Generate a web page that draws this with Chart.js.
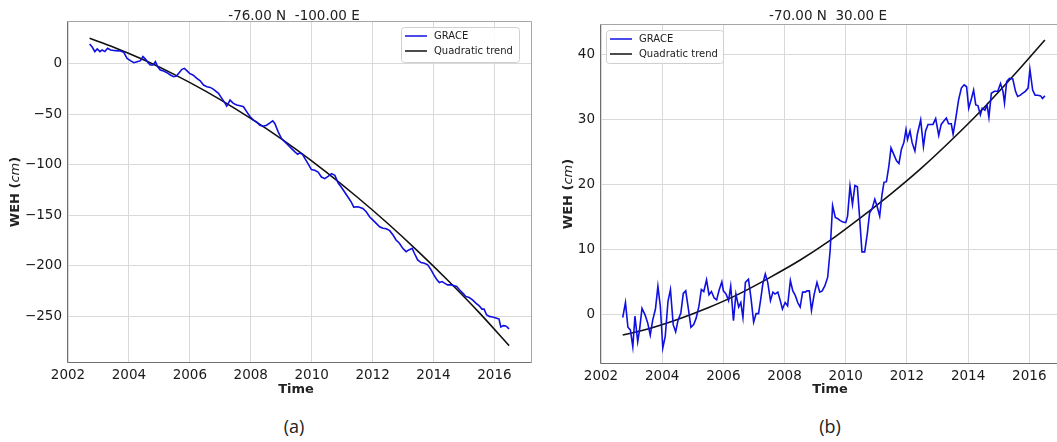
<!DOCTYPE html>
<html>
<head>
<meta charset="utf-8">
<script src="https://cdn.jsdelivr.net/npm/chart.js@4.4.1/dist/chart.umd.min.js"></script>
<style>
    html, body { margin: 0; padding: 0; background: #fff; }
    body { width: 1057px; height: 442px; position: relative; overflow: hidden; font-family: "DejaVu Sans", sans-serif; color: #222; }
    canvas { position: absolute; top: 0; }
    #chartA { left: 0; }
    #chartB { left: 540px; }
    .title { position: absolute; top: 7px; width: 300px; text-align: center; font-size: 13.5px; white-space: pre; }
    .xtitle { position: absolute; top: 381px; width: 100px; text-align: center; font-size: 13px; font-weight: bold; }
    .ytitle { position: absolute; width: 120px; height: 16px; line-height: 16px; text-align: center; font-size: 13px; transform: rotate(-90deg); white-space: pre; }
    .ytitle b { font-weight: bold; }
    .ytitle i { font-style: italic; }
    .caption { position: absolute; top: 414px; width: 60px; text-align: center; font-family: "Open Sans", sans-serif; font-size: 18px; }
</style>
</head>
<body>
<canvas id="chartA" width="545" height="400"></canvas>
<canvas id="chartB" width="540" height="400"></canvas>

<div class="title" style="left:144px">-76.00 N  -100.00 E</div>
<div class="title" style="left:678px">-70.00 N  30.00 E</div>
<div class="xtitle" style="left:246px">Time</div>
<div class="xtitle" style="left:780px">Time</div>
<div class="ytitle" style="left:-45px; top:184px"><b>WEH (</b><i>cm</i><b>)</b></div>
<div class="ytitle" style="left:508px; top:186px"><b>WEH (</b><i>cm</i><b>)</b></div>
<div class="caption" style="left:264px">(a)</div>
<div class="caption" style="left:800px">(b)</div>

<script>
// 축 눈금
const xTicks = [2002, 2004, 2006, 2008, 2010, 2012, 2014, 2016];
const yTicksA = [-250, -200, -150, -100, -50, 0];
const yTicksB = [0, 10, 20, 30, 40];

// (a) -76 N -100 E : GRACE
const graceTimeA = [
    2002.71, 2002.80, 2002.88, 2002.96, 2003.05, 2003.12, 2003.21, 2003.30, 2003.40, 2003.56,
    2003.72, 2003.83, 2003.94, 2004.05, 2004.16, 2004.27, 2004.38, 2004.46, 2004.55, 2004.63,
    2004.70, 2004.79, 2004.87, 2004.94, 2005.03, 2005.14, 2005.25, 2005.36, 2005.47, 2005.56,
    2005.63, 2005.74, 2005.82, 2005.90, 2005.99, 2006.10, 2006.23, 2006.34, 2006.45, 2006.56,
    2006.67, 2006.78, 2006.94, 2007.05, 2007.16, 2007.21, 2007.32, 2007.43, 2007.54, 2007.65,
    2007.76, 2007.87, 2007.98, 2008.09, 2008.19, 2008.30, 2008.41, 2008.52, 2008.63, 2008.72,
    2008.79, 2008.90, 2009.01, 2009.12, 2009.23, 2009.34, 2009.45, 2009.54, 2009.61, 2009.70,
    2009.78, 2009.88, 2009.99, 2010.10, 2010.21, 2010.32, 2010.43, 2010.54, 2010.65, 2010.76,
    2010.87, 2010.97, 2011.08, 2011.19, 2011.30, 2011.38, 2011.52, 2011.68, 2011.79, 2011.90,
    2012.01, 2012.12, 2012.23, 2012.34, 2012.45, 2012.56, 2012.67, 2012.77, 2012.88, 2012.99,
    2013.10, 2013.19, 2013.30, 2013.37, 2013.48, 2013.59, 2013.70, 2013.81, 2013.92, 2014.01,
    2014.10, 2014.19, 2014.28, 2014.36, 2014.46, 2014.57, 2014.68, 2014.76, 2014.85, 2014.96,
    2015.06, 2015.17, 2015.28, 2015.39, 2015.50, 2015.59, 2015.66, 2015.74, 2015.83, 2015.94,
    2016.05, 2016.15, 2016.21, 2016.29, 2016.37, 2016.43, 2016.48
];
const graceValueA = [
    19.9, 16.6, 12.3, 14.9, 12.3, 13.9, 12.3, 15.6, 13.9, 13.2,
    12.9, 11.6, 5.6, 3.3, 1.3, 2.3, 3.3, 7.3, 4.6, 1.3,
    -1, -1, 2.3, -2.6, -6, -7, -8.6, -10.9, -12.6, -11.9,
    -9.3, -5.3, -4.3, -6.6, -9.3, -10.9, -14.2, -16.6, -20.9, -22.5,
    -23.2, -25.2, -29.1, -34.1, -39, -41.7, -35.8, -39, -40.7, -41.4,
    -42.4, -47.4, -52.3, -55.6, -57.3, -60.6, -61.6, -60.6, -58.3, -56.3,
    -58.9, -67.2, -73.8, -77.2, -80.5, -83.8, -87.1, -89.4, -88.1, -89.4,
    -93.7, -98.7, -104.6, -105.3, -107, -112, -113.6, -111.3, -108.6, -110.3,
    -117.9, -121.9, -126.8, -131.8, -136.8, -141.7, -141.4, -143.1, -146.4, -151.3,
    -154.6, -157.9, -161.2, -162.8, -163.2, -165.1, -169.4, -174.3, -177.6, -182.6,
    -185.9, -184.2, -182.6, -187.5, -194.1, -196.7, -197.4, -199, -203.9, -208.9,
    -213.2, -216.5, -215.5, -217.1, -218.8, -218.8, -219.7, -220.4, -223.7, -227,
    -230.3, -231.3, -233.6, -236.8, -239.5, -242.8, -242.8, -248.4, -250, -250.7,
    -251.6, -252.6, -260.5, -259.2, -259.5, -260.9, -262.5
];
// (a) Quadratic trend
const trendTimeA = [2002.71, 2003.5, 2004.5, 2005.5, 2006.5, 2007.5, 2008.5, 2009.5, 2010.5, 2011.5, 2012.5, 2013.5, 2014.5, 2015.5, 2016.48];
const trendValueA = [25.5, 16.6, 3.9, -10.5, -26.6, -44.4, -63.8, -84.8, -107.6, -132, -158, -185.8, -215.2, -246.3, -279];

// (b) -70 N 30 E : GRACE
const graceTimeB = [
    2002.71, 2002.80, 2002.88, 2002.96, 2003.04, 2003.11, 2003.20, 2003.26, 2003.34, 2003.44,
    2003.53, 2003.61, 2003.69, 2003.78, 2003.86, 2003.94, 2004.02, 2004.10, 2004.19, 2004.27,
    2004.36, 2004.44, 2004.52, 2004.61, 2004.69, 2004.77, 2004.86, 2004.94, 2005.03, 2005.11,
    2005.20, 2005.28, 2005.36, 2005.45, 2005.53, 2005.61, 2005.70, 2005.78, 2005.86, 2005.95,
    2006.00, 2006.09, 2006.17, 2006.24, 2006.33, 2006.41, 2006.50, 2006.57, 2006.64, 2006.72,
    2006.82, 2006.90, 2006.99, 2007.07, 2007.15, 2007.23, 2007.29, 2007.37, 2007.45, 2007.54,
    2007.62, 2007.69, 2007.78, 2007.86, 2007.93, 2008.02, 2008.10, 2008.19, 2008.27, 2008.35,
    2008.43, 2008.51, 2008.59, 2008.68, 2008.73, 2008.81, 2008.88, 2008.97, 2009.06, 2009.15,
    2009.23, 2009.32, 2009.41, 2009.49, 2009.57, 2009.66, 2009.74, 2009.82, 2009.91,
    2010.00, 2010.06, 2010.14, 2010.22, 2010.30, 2010.38, 2010.45, 2010.53, 2010.62, 2010.71,
    2010.78, 2010.86, 2010.95, 2011.02, 2011.11, 2011.18, 2011.25, 2011.33, 2011.41, 2011.48,
    2011.57, 2011.66, 2011.74, 2011.82, 2011.90, 2011.97, 2012.02, 2012.10, 2012.17, 2012.26,
    2012.34, 2012.45, 2012.54, 2012.61, 2012.69, 2012.77, 2012.85, 2012.94, 2013.04, 2013.12,
    2013.20, 2013.29,
    2013.36, 2013.45, 2013.51, 2013.60, 2013.69, 2013.78, 2013.87, 2013.95, 2014.02, 2014.11,
    2014.18, 2014.25, 2014.32, 2014.40, 2014.46, 2014.55, 2014.62, 2014.68, 2014.76, 2014.86,
    2014.97, 2015.06, 2015.14, 2015.19, 2015.26, 2015.35, 2015.46, 2015.55, 2015.62, 2015.71,
    2015.78, 2015.87, 2015.96, 2016.02, 2016.11, 2016.19, 2016.28, 2016.37, 2016.43, 2016.51
];
const graceValueB = [
    -0.4, 1.9, -1.9, -2.3, -4.9, -0.2, -4.1, -2.3, 1.0, 0,
    -1.3, -3.1, -0.8, 0.9, 4.4, 1.3, -5.1, -3.3, 2.1, 3.9,
    -1.5, -2.6, -0.8, 0.3, 3.3, 3.7, 0.8, -1.9, -1.5, -0.5,
    1.3, 3.9, 3.6, 5.4, 3.1, 3.6, 2.6, 2.3, 3.8, 5.1,
    3.7, 3.2, 2.2, 4.4, -0.9, 3.2, 1.2, 1.9, -0.4, 5.0,
    5.5, 2.7, -1.1, 0.2, 0.2, 2.7, 4.8, 6.3, 5.0, 2.2,
    3.5, 3.2, 3.5, 2.2, 0.9, 1.9, 1.4, 5.3, 3.7, 3.0,
    1.9, 1.2, 3.5, 3.5, 3.7, 3.7, 0.7, 3.2, 5.0, 3.5,
    3.7, 4.5, 5.8, 9.9, 16.8, 15.0, 14.8, 14.5, 14.3,
    14.2, 15.2, 19.8, 17.0, 19.9, 19.7, 15.2, 9.7, 9.7, 12.7,
    15.7, 16.3, 17.8, 16.8, 15.2, 18.3, 20.4, 20.5, 22.9, 25.7,
    24.7, 23.7, 23.3, 25.5, 26.5, 28.5, 27.0, 28.3, 26.5, 25.2,
    27.8, 30.0, 25.9, 28.3, 29.3, 29.3, 29.3, 30.2, 27.6, 29.3,
    29.8, 30.3,
    29.4, 29.4, 27.8, 30.3, 33.1, 34.9, 35.4, 35.1, 31.8, 33.3,
    34.6, 32.3, 32.2, 30.8, 31.8, 31.5, 32.3, 30.4, 34.1, 34.4,
    34.4, 35.6, 34.4, 32.6, 35.9, 36.4, 36.3, 34.4, 33.6, 33.8,
    34.1, 34.4, 34.9, 37.8, 34.6, 33.8, 33.8, 33.7, 33.3, 33.7
];
// (b) Quadratic trend
const trendTimeB = [2002.71, 2003.5, 2004.5, 2005.5, 2006.5, 2007.5, 2008.5, 2009.5, 2010.5, 2011.5, 2012.5, 2013.5, 2014.5, 2015.5, 2016.51];
const trendValueB = [-3.1, -2.2, -0.7, 1.1, 3.2, 5.7, 8.4, 11.5, 15.0, 18.7, 22.7, 27.1, 31.8, 36.9, 42.3];

const TICK_FONT = { family: '"DejaVu Sans", sans-serif', size: 13.5 };
const minus = v => String(v).replace('-', '\u2212');
const toXY = (ts, vs) => ts.map((t, i) => ({ x: t, y: vs[i] }));

// 축 테두리 (matplotlib spines)
const framePlugin = {
    id: 'frame',
    afterDatasetsDraw(chart) {
        const { ctx, chartArea: a } = chart;
        const l = Math.round(a.left) - 0.5, t = Math.round(a.top) - 0.5;
        const r = Math.round(a.right) + 0.5, b = Math.round(a.bottom) + 0.5;
        ctx.save();
        ctx.lineWidth = 1;
        // 위/오른쪽은 옅게
        ctx.strokeStyle = '#a6a6a6';
        ctx.beginPath();
        ctx.moveTo(l, t); ctx.lineTo(r, t); ctx.lineTo(r, b);
        ctx.stroke();
        // 왼쪽/아래는 진하게
        ctx.strokeStyle = '#707070';
        ctx.beginPath();
        ctx.moveTo(l, t); ctx.lineTo(l, b); ctx.lineTo(r, b);
        ctx.stroke();
        ctx.restore();
    }
};

// 범례 (축 내부)
const boxLegendPlugin = {
    id: 'boxLegend',
    afterDraw(chart, args, opts) {
        const { ctx } = chart;
        const { x, y, w, h } = opts;
        ctx.save();
        ctx.fillStyle = 'rgba(255,255,255,0.85)';
        ctx.strokeStyle = '#d0d0d0';
        ctx.lineWidth = 1;
        ctx.beginPath();
        ctx.roundRect(x + 0.5, y + 0.5, w, h, 3);
        ctx.fill();
        ctx.stroke();
        ctx.font = '10px "DejaVu Sans", sans-serif';
        ctx.textBaseline = 'middle';
        chart.data.datasets.forEach((ds, i) => {
            const ry = y + 9 + i * 15;
            ctx.strokeStyle = ds.borderColor;
            ctx.lineWidth = 1.5;
            ctx.beginPath();
            ctx.moveTo(x + 4, ry);
            ctx.lineTo(x + 26, ry);
            ctx.stroke();
            ctx.fillStyle = '#222';
            ctx.fillText(ds.label, x + 33, ry);
        });
        ctx.restore();
    }
};

function makeChart(id, grace, trend, yMin, yMax, yTicks, yWidth, xHeight, padding, legend) {
    return new Chart(document.getElementById(id), {
        type: 'line',
        data: {
            datasets: [
                {
                    label: 'GRACE',
                    data: grace,
                    borderColor: '#0f0fe0',
                    borderWidth: 1.6,
                    pointRadius: 0,
                    tension: 0
                },
                {
                    label: 'Quadratic trend',
                    data: trend,
                    borderColor: '#111111',
                    borderWidth: 1.6,
                    pointRadius: 0,
                    cubicInterpolationMode: 'monotone'
                }
            ]
        },
        options: {
            responsive: false,
            animation: false,
            devicePixelRatio: 1,
            layout: { padding },
            plugins: {
                legend: { display: false },
                tooltip: { enabled: false },
                boxLegend: legend
            },
            scales: {
                x: {
                    type: 'linear',
                    min: 2002,
                    max: 2017.2,
                    afterBuildTicks: s => { s.ticks = xTicks.map(v => ({ value: v })); },
                    afterFit: s => { s.height = xHeight; },
                    ticks: { callback: v => String(v), color: '#1a1a1a', font: TICK_FONT, padding: 5, maxRotation: 0, autoSkip: false },
                    grid: { color: '#d9d9d9', lineWidth: 1, drawTicks: false },
                    border: { display: false }
                },
                y: {
                    type: 'linear',
                    min: yMin,
                    max: yMax,
                    afterBuildTicks: s => { s.ticks = yTicks.map(v => ({ value: v })); },
                    afterFit: s => { s.width = yWidth; },
                    ticks: { callback: v => minus(v), color: '#1a1a1a', font: TICK_FONT, padding: 6, autoSkip: false },
                    grid: { color: '#d9d9d9', lineWidth: 1, drawTicks: false },
                    border: { display: false }
                }
            }
        },
        plugins: [framePlugin, boxLegendPlugin]
    });
}

makeChart('chartA', toXY(graceTimeA, graceValueA), toXY(trendTimeA, trendValueA),
    -295.2, 41.6, yTicksA, 68, 38, { top: 22, right: 14, bottom: 0, left: 0 },
    { x: 401, y: 27, w: 118, h: 35 });

makeChart('chartB', toXY(graceTimeB, graceValueB), toXY(trendTimeB, trendValueB),
    -7.4, 44.6, yTicksB, 61, 37, { top: 25, right: 14, bottom: 0, left: 0 },
    { x: 66, y: 30, w: 117, h: 33 });
</script>
</body>
</html>
